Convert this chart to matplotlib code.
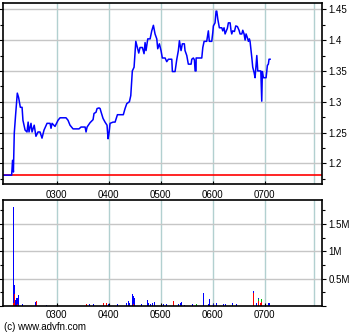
import numpy as np
import matplotlib.pyplot as plt
from matplotlib.ticker import MultipleLocator, FuncFormatter

# =========================
# DATA (time in minutes after midnight)
# =========================
price_time = [119, 128, 129, 130, 131, 132.5, 134.5, 136, 138, 140, 141, 143.5,
              145.7, 147, 148, 150.3, 151.5, 154, 156, 158.4, 160.7, 163, 165.3,
              168.8, 172.3, 173.4, 174.6, 178, 181.5, 183.8, 190.7, 193, 195.3,
              198.8, 205.7, 208, 212.7, 213.8, 215, 218.4, 221.9, 223, 225.3,
              226.5, 228.8, 230, 231, 233.4, 235.7, 238, 239.2, 240.3, 241.5,
              245, 247.3, 250, 256.8, 258.8, 260.8, 263.8, 265.4, 267.2, 269.2,
              271.2, 273, 274.6, 276.1, 278.8, 280.7, 281.9, 283, 285, 287.7,
              289.6, 291.5, 293.4, 295.4, 296.5, 298.4, 300.3, 301.8, 305,
              306.9, 308.8, 312.7, 313.4, 316.5, 318.5, 320.3, 321.5, 323.4,
              324.9, 327.2, 328, 330, 331.8, 335, 335.8, 337.6, 338.8, 339.6,
              340.7, 340.8, 347.3, 348.5, 350, 353, 354.9, 356, 358.8, 360,
              360.7, 362.6, 363.8, 364.6, 365.8, 367.6, 370.4, 371.5, 373,
              374.2, 375.3, 376.8, 378, 380, 381.1, 381.9, 383, 385, 386.5,
              388.4, 390.3, 391.5, 393.5, 394.6, 396.1, 397.3, 398.4, 399.9,
              401.1, 402.2, 403, 405, 406.1, 407.6, 408.8, 410.8, 411.9, 415.4,
              416.5, 417.2, 418.4, 421.5, 423, 424.1, 424.9, 426.1]
price = [1.181, 1.181, 1.205, 1.186, 1.249, 1.278, 1.314, 1.307, 1.291, 1.291,
         1.27, 1.254, 1.251, 1.267, 1.251, 1.265, 1.251, 1.262, 1.244, 1.251,
         1.251, 1.241, 1.254, 1.265, 1.265, 1.257, 1.265, 1.26, 1.27, 1.274,
         1.274, 1.27, 1.262, 1.256, 1.256, 1.259, 1.259, 1.251, 1.259, 1.266,
         1.271, 1.281, 1.283, 1.289, 1.29, 1.289, 1.284, 1.273, 1.267, 1.262,
         1.24, 1.249, 1.265, 1.267, 1.267, 1.279, 1.279, 1.289, 1.297, 1.30,
         1.31, 1.35, 1.356, 1.398, 1.388, 1.379, 1.388, 1.388, 1.378, 1.396,
         1.383, 1.402, 1.402, 1.415, 1.424, 1.41, 1.402, 1.386, 1.394, 1.383,
         1.371, 1.371, 1.365, 1.369, 1.369, 1.349, 1.349, 1.369, 1.383, 1.399,
         1.383, 1.394, 1.394, 1.383, 1.375, 1.361, 1.361, 1.369, 1.371, 1.368,
         1.35, 1.35, 1.371, 1.371, 1.388, 1.398, 1.398, 1.415, 1.398, 1.398,
         1.412, 1.423, 1.428, 1.447, 1.447, 1.434, 1.42, 1.42, 1.415, 1.42,
         1.41, 1.414, 1.419, 1.428, 1.428, 1.415, 1.41, 1.415, 1.414, 1.423,
         1.422, 1.416, 1.41, 1.41, 1.416, 1.41, 1.40, 1.41, 1.404, 1.398,
         1.402, 1.398, 1.372, 1.356, 1.348, 1.339, 1.375, 1.35, 1.35, 1.301,
         1.349, 1.339, 1.339, 1.359, 1.361, 1.369, 1.369]
prev_close = 1.181

vol_time = [130, 131, 132.2, 133.4, 134.5, 136.2, 140, 143.4, 145.7, 149.2, 155,
            156.7, 164.2, 165.3, 167.7, 183.8, 214.6, 217.6, 222.2, 225.3,
            233.8, 237.7, 239.5, 241.5, 248.4, 249.9, 253, 260.8, 262.6, 263.8,
            267.2, 268.4, 269.2, 270.3, 271.5, 276.1, 278.1, 284.5, 286.2,
            287.7, 290.8, 292.3, 303, 306.9, 310.7, 314.5, 320.3, 322.3, 324.2,
            326.9, 336.9, 341.5, 349.2, 351.1, 354.9, 356.1, 360.7, 363.8,
            372.2, 374.2, 383.1, 385.7, 387.7, 406.8, 410.8, 412.6, 414.6,
            416.5, 424.1, 425.3]
vol_red = [0.05e6, 0.22e6, 0, 0, 0.04e6, 0, 0, 0, 0, 0.05e6, 0, 0.1e6, 0, 0, 0,
           0, 0.03e6, 0, 0, 0, 0.05e6, 0.05e6, 0, 0.12e6, 0, 0, 0, 0, 0, 0,
           0, 0.04e6, 0, 0.05e6, 0, 0, 0, 0, 0, 0, 0, 0, 0, 0, 0, 0.09e6, 0, 0,
           0, 0, 0, 0, 0, 0, 0, 0, 0, 0, 0, 0, 0, 0, 0, 0.23e6, 0, 0.1e6,
           0.05e6, 0.08e6, 0, 0]
vol_green = [0, 0, 0, 0, 0, 0, 0, 0, 0, 0, 0, 0, 0, 0, 0, 0, 0, 0, 0, 0, 0, 0,
             0, 0, 0, 0, 0, 0, 0, 0, 0, 0, 0, 0.03e6, 0, 0, 0, 0, 0, 0, 0, 0,
             0, 0, 0, 0, 0, 0, 0, 0, 0, 0.03e6, 0, 0, 0, 0, 0, 0, 0, 0,
             0.02e6, 0, 0, 0, 0, 0.02e6, 0, 0.04e6, 0, 0]
vol_blue = [1.76e6, 0.16e6, 0.11e6, 0.14e6, 0.1e6, 0.2e6, 0.04e6, 0.03e6,
            0.03e6, 0, 0.07e6, 0, 0.06e6, 0.04e6, 0.02e6, 0.05e6, 0, 0.03e6,
            0.03e6, 0.08e6, 0, 0, 0.03e6, 0, 0.05e6, 0.03e6, 0.02e6, 0.05e6,
            0.09e6, 0.05e6, 0.22e6, 0.14e6, 0.15e6, 0.18e6, 0.12e6, 0.03e6,
            0.03e6, 0.11e6, 0.06e6, 0.04e6, 0.05e6, 0.08e6, 0.03e6, 0.03e6,
            0.03e6, 0, 0.03e6, 0.05e6, 0.08e6, 0.02e6, 0.03e6, 0, 0.23e6,
            0.05e6, 0.04e6, 0.12e6, 0.03e6, 0.05e6, 0.03e6, 0.03e6, 0.03e6,
            0.03e6, 0.03e6, 0.04e6, 0.05e6, 0.02e6, 0, 0.01e6, 0.05e6, 0.05e6]

hour_ticks = [180, 240, 300, 360, 420]
hour_labels = ["0300", "0400", "0500", "0600", "0700"]
session_end = 477

# =========================
# PLOT
# =========================
plt.rcParams['font.family'] = ['Liberation Sans', 'DejaVu Sans']
plt.rcParams['font.size'] = 7

fig = plt.figure(figsize=(3.6, 3.36), dpi=100)
ax1 = fig.add_axes([3/360, 1-184/336, 319/360, 181/336])
ax2 = fig.add_axes([3/360, 1-306/336, 319/360, 106/336])

hgrid = '#c6c6c6'
vgrid = '#b2d0d0'

for ax in (ax1, ax2):
    ax.set_xlim(118, 486)
    for t in hour_ticks + [session_end]:
        ax.axvline(t, color=vgrid, lw=1, zorder=0)
    ax.set_xticks(hour_ticks)
    ax.yaxis.tick_right()
    ax.tick_params(axis='y', which='major', direction='out', length=3, width=0.8,
                   pad=1.5, labelsize=7, left=True, right=True)
    ax.tick_params(axis='y', which='minor', direction='out', length=2, width=0.8,
                   left=True, right=True)
    ax.tick_params(axis='x', direction='in', length=2, width=0.8)
    for s in ax.spines.values():
        s.set_linewidth(1.2)

# price panel
ax1.set_ylim(1.1666, 1.4602)
ax1.yaxis.set_major_locator(MultipleLocator(0.05))
ax1.yaxis.set_minor_locator(MultipleLocator(0.025))
ax1.yaxis.set_major_formatter(FuncFormatter(lambda v, p: f"{v:g}"))
for v in np.arange(1.2, 1.46, 0.05):
    ax1.axhline(v, color=hgrid, lw=1, zorder=0)
ax1.axhline(prev_close, color='#ff0000', lw=1.2, zorder=1)
ax1.plot(price_time, price, color='#0000ff', lw=1.1, zorder=2)
ax1.set_xticklabels(hour_labels)
ax1.tick_params(axis='x', pad=4, labelsize=7)

# volume panel
ax2.set_ylim(0, 1.94e6)
ax2.yaxis.set_major_locator(MultipleLocator(0.5e6))
ax2.yaxis.set_minor_locator(MultipleLocator(0.25e6))
ax2.yaxis.set_major_formatter(FuncFormatter(lambda v, p: "" if v == 0 else f"{v/1e6:g}M"))
for v in [0.5e6, 1.0e6, 1.5e6]:
    ax2.axhline(v, color=hgrid, lw=1, zorder=0)
red = np.array(vol_red)
green = np.array(vol_green)
blue = np.array(vol_blue)
ax2.bar(vol_time, red, width=1.0, color='#ff0000', zorder=2)
ax2.bar(vol_time, green, width=1.0, bottom=red, color='#00c000', zorder=2)
ax2.bar(vol_time, blue, width=1.0, bottom=red + green, color='#0000ff', zorder=2)
ax2.set_xticklabels(hour_labels)
ax2.tick_params(axis='x', pad=3, labelsize=7)

fig.text(4/360, 1-327/336, "(c) www.advfn.com", fontsize=7, va='center', ha='left')

fig.savefig("out.png", dpi=100, facecolor='white')
